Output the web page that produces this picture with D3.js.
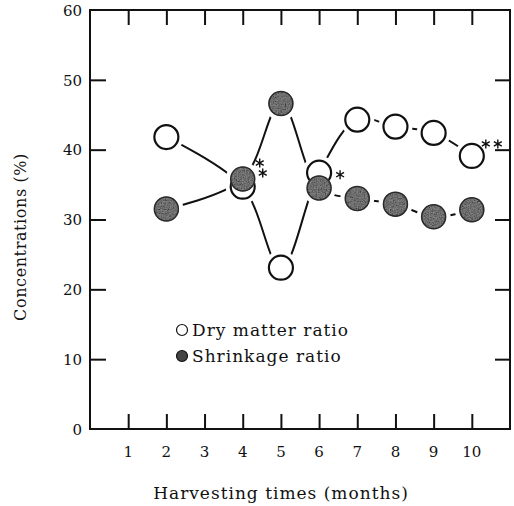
<!DOCTYPE html>
<html>
  <head>
    <meta charset="utf-8" />
    <title>Concentrations by harvesting time</title>
    <script src="https://cdnjs.cloudflare.com/ajax/libs/d3/7.8.5/d3.min.js"></script>
    <style>
      body { margin: 0; background: #fff; }
      text { font-family: "DejaVu Serif", "Liberation Serif", serif; fill: #111; }
    </style>
  </head>
  <body>
    <div id="chart"></div>
    <script>
      // data
      const months = [2, 4, 5, 6, 7, 8, 9, 10];
      const dryMatter = [41.8, 34.7, 23.1, 36.7, 44.3, 43.3, 42.4, 39.1];
      const shrinkage = [31.5, 35.8, 46.6, 34.5, 33.0, 32.2, 30.4, 31.4];
      // significance stars per point
      const dryStars = [0, 0, 0, 1, 0, 0, 0, 2];
      const shrinkStars = [0, 2, 0, 0, 0, 0, 0, 0];
      const xTicks = [1, 2, 3, 4, 5, 6, 7, 8, 9, 10];
      const yTicks = [0, 10, 20, 30, 40, 50, 60];

      const width = 514, height = 506;
      const r = 12;

      const svg = d3.select("#chart").append("svg")
        .attr("width", width)
        .attr("height", height);

      const x = d3.scaleLinear().domain([0, 11]).range([90, 510]);
      const y = d3.scaleLinear().domain([0, 60]).range([429, 10]);

      const dry = months.map((m, i) => ({ m, v: dryMatter[i], stars: dryStars[i] }));
      const shr = months.map((m, i) => ({ m, v: shrinkage[i], stars: shrinkStars[i] }));

      const defs = svg.append("defs");

      // speckled grey for the filled markers
      const f = defs.append("filter").attr("id", "speckle")
        .attr("x", "-20%").attr("y", "-20%").attr("width", "140%").attr("height", "140%");
      f.append("feTurbulence").attr("type", "fractalNoise")
        .attr("baseFrequency", 0.75).attr("numOctaves", 2).attr("seed", 3).attr("result", "t");
      f.append("feColorMatrix").attr("in", "t").attr("type", "matrix")
        .attr("values", "1 1 0 0 -0.35  1 1 0 0 -0.35  1 1 0 0 -0.35  0 0 0 0 1")
        .attr("result", "g");
      f.append("feBlend").attr("in", "SourceGraphic").attr("in2", "g")
        .attr("mode", "multiply").attr("result", "b");
      f.append("feComposite").attr("in", "b").attr("in2", "SourceGraphic")
        .attr("operator", "in");

      // mask: lines stop short of every circle
      const mask = defs.append("mask").attr("id", "gap");
      mask.append("rect").attr("width", width).attr("height", height).attr("fill", "#fff");
      mask.selectAll("circle")
        .data(dry.concat(shr))
        .join("circle")
        .attr("cx", d => x(d.m))
        .attr("cy", d => y(d.v))
        .attr("r", r + 5)
        .attr("fill", "#000");

      const line = d3.line()
        .x(d => x(d.m))
        .y(d => y(d.v))
        .curve(d3.curveCatmullRom.alpha(0.5));

      svg.append("g").attr("mask", "url(#gap)")
        .selectAll("path")
        .data([dry, shr])
        .join("path")
        .attr("d", line)
        .attr("fill", "none")
        .attr("stroke", "#111")
        .attr("stroke-width", 2);

      // axes: box with inward ticks
      const axBottom = svg.append("g").attr("transform", `translate(0,${y(0)})`)
        .call(d3.axisTop(x).tickValues(xTicks).tickSize(15).tickFormat(""));
      const axTop = svg.append("g").attr("transform", `translate(0,${y(60)})`)
        .call(d3.axisBottom(x).tickValues(xTicks).tickSize(15).tickFormat(""));
      const axLeft = svg.append("g").attr("transform", `translate(${x(0)},0)`)
        .call(d3.axisRight(y).tickValues(yTicks.slice(1, -1)).tickSize(16).tickFormat(""));
      const axRight = svg.append("g").attr("transform", `translate(${x(11)},0)`)
        .call(d3.axisLeft(y).tickValues(yTicks.slice(1, -1)).tickSize(15).tickFormat(""));
      [axBottom, axTop, axLeft, axRight].forEach(g => {
        g.select(".domain").remove();
        g.selectAll("line").attr("stroke", "#111").attr("stroke-width", 2);
      });
      svg.append("rect")
        .attr("x", x(0)).attr("y", y(60))
        .attr("width", x(11) - x(0)).attr("height", y(0) - y(60))
        .attr("fill", "none").attr("stroke", "#111").attr("stroke-width", 2);

      // tick labels
      svg.append("g").selectAll("text")
        .data(xTicks).join("text")
        .attr("x", d => x(d)).attr("y", 457)
        .attr("text-anchor", "middle")
        .attr("font-size", 15)
        .text(d => d);
      svg.append("g").selectAll("text")
        .data(yTicks).join("text")
        .attr("x", 82).attr("y", d => y(d)).attr("dy", "0.38em")
        .attr("text-anchor", "end")
        .attr("font-size", 15)
        .text(d => d);

      // axis titles
      svg.append("text")
        .attr("x", 281).attr("y", 499)
        .attr("text-anchor", "middle")
        .attr("font-size", 17)
        .attr("letter-spacing", 1)
        .text("Harvesting times (months)");
      svg.append("text")
        .attr("transform", "translate(26,237) rotate(-90)")
        .attr("text-anchor", "middle")
        .attr("font-size", 16)
        .attr("letter-spacing", 0.6)
        .text("Concentrations (%)");

      // points (drawn month by month so the overlaps match the figure)
      const pts = svg.append("g");
      const drawDry = d => pts.append("circle")
        .attr("cx", x(d.m)).attr("cy", y(d.v)).attr("r", r)
        .attr("fill", "#fff").attr("stroke", "#111").attr("stroke-width", 2.2);
      const drawShr = d => {
        pts.append("circle")
          .attr("cx", x(d.m)).attr("cy", y(d.v)).attr("r", r + 0.5)
          .attr("fill", "#858585").attr("filter", "url(#speckle)");
        pts.append("circle")
          .attr("cx", x(d.m)).attr("cy", y(d.v)).attr("r", r)
          .attr("fill", "none").attr("stroke", "#2a2a2a").attr("stroke-width", 1.5);
      };
      months.forEach((m, i) => {
        drawDry(dry[i]);
        drawShr(shr[i]);
      });

      // significance stars
      const star = d3.symbol(d3.symbolAsterisk, 58);
      const starPos = [];
      dry.forEach(d => {
        if (d.stars === 1) starPos.push([x(d.m) + r + 9, y(d.v) + 2]);
        if (d.stars === 2) {
          starPos.push([x(d.m) + r + 2, y(d.v) - 12]);
          starPos.push([x(d.m) + r + 14, y(d.v) - 12]);
        }
      });
      shr.forEach(d => {
        if (d.stars === 2) {
          starPos.push([x(d.m) + r + 5, y(d.v) - 16]);
          starPos.push([x(d.m) + r + 8, y(d.v) - 6]);
        }
      });
      svg.append("g").selectAll("path")
        .data(starPos).join("path")
        .attr("transform", d => `translate(${d[0]},${d[1]})`)
        .attr("d", star)
        .attr("fill", "none")
        .attr("stroke", "#111")
        .attr("stroke-width", 1.4);

      // legend
      const legend = svg.append("g");
      const items = [
        { label: "Dry matter ratio", fill: "#fff" },
        { label: "Shrinkage ratio", fill: "#444" }
      ];
      items.forEach((it, i) => {
        const ly = 330 + i * 26;
        legend.append("circle")
          .attr("cx", 182).attr("cy", ly).attr("r", 5.5)
          .attr("fill", it.fill).attr("stroke", "#111").attr("stroke-width", 1.2);
        legend.append("text")
          .attr("x", 192).attr("y", ly).attr("dy", "0.36em")
          .attr("font-size", 17)
          .attr("letter-spacing", 1)
          .text(it.label);
      });
    </script>
  </body>
</html>
